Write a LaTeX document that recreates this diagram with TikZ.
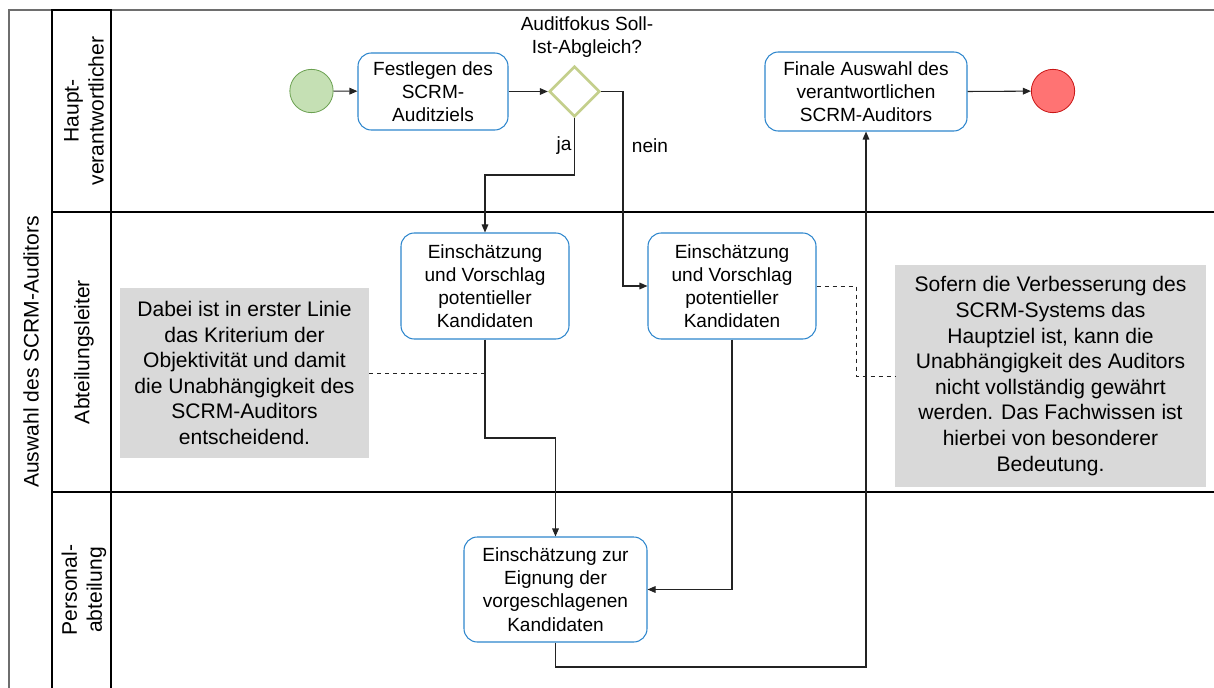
\documentclass[tikz,border=0pt]{standalone}
\usepackage{fontspec}
\setmainfont{Liberation Sans}
\usetikzlibrary{shapes.geometric,arrows.meta,calc}
\definecolor{taskblue}{RGB}{46,134,205}
\definecolor{gwolive}{RGB}{196,207,140}
\definecolor{startfill}{RGB}{197,224,180}
\definecolor{startdraw}{RGB}{106,160,80}
\definecolor{endfill}{RGB}{255,115,115}
\definecolor{enddraw}{RGB}{200,20,20}
\definecolor{annofill}{RGB}{217,217,217}
\definecolor{flowcol}{RGB}{35,35,35}
\definecolor{poolgray}{RGB}{110,110,110}
\tikzset{
  boxfont/.style={font=\fontsize{14.3pt}{17.4pt}\selectfont},
  task/.style={boxfont, draw=taskblue, line width=0.8pt, rounded corners=10pt, fill=white, align=center, inner sep=0pt},
  gateway/.style={diamond, draw=gwolive, line width=2pt, fill=white, minimum width=38pt, minimum height=38pt, inner sep=0pt, aspect=1},
  startev/.style={circle, draw=startdraw, fill=startfill, line width=0.6pt, minimum size=32.5pt, inner sep=0pt},
  endev/.style={circle, draw=enddraw, fill=endfill, line width=0.6pt, minimum size=32.5pt, inner sep=0pt},
  anno/.style={fill=annofill, align=center, inner sep=0pt, font=\fontsize{15.8pt}{19.2pt}\selectfont},
  flow/.style={draw=flowcol, line width=0.8pt, -{Triangle[length=6pt,width=5pt]}},
  assoc/.style={draw=flowcol, line width=0.7pt, dashed},
  lanelabel/.style={rotate=90, align=center, font=\fontsize{15.8pt}{18.8pt}\selectfont},
  plainlabel/.style={boxfont, align=center, inner sep=0pt},
}
\begin{document}
\begin{tikzpicture}[x=0.75pt,y=-0.75pt]
\useasboundingbox (0,0) rectangle (1214,688);
% pool and lanes
\draw[poolgray, line width=1.6pt] (9,688) -- (9,10) -- (1214,10);
\draw[black, line width=1pt] (52,688) -- (52,10) -- (111,10) -- (111,688);
\draw[black, line width=1pt] (52,212) -- (1214,212);
\draw[black, line width=1pt] (52,492) -- (1214,492);
\node[lanelabel] (pool) at (31,352) {Auswahl des SCRM-Auditors};
\node[lanelabel] (lane1) at (84,111) {Haupt-\\verantwortlicher};
\node[lanelabel] (lane2) at (84,352) {Abteilungsleiter};
\node[lanelabel] (lane3) at (84,590) {Personal-\\abteilung};
% annotations
\node[anno, minimum width=186.75pt, minimum height=127.5pt] (a1) at (244.5,373) {Dabei ist in erster Linie\\das Kriterium der\\Objektivität und damit\\die Unabhängigkeit des\\SCRM-Auditors\\entscheidend.};
\node[anno, minimum width=233.25pt, minimum height=166.5pt] (a2) at (1050.5,376) {Sofern die Verbesserung des\\SCRM-Systems das\\Hauptziel ist, kann die\\Unabhängigkeit des Auditors\\nicht vollständig gewährt\\werden. Das Fachwissen ist\\hierbei von besonderer\\Bedeutung.};
% events, tasks, gateway
\node[startev] (start) at (311.5,91) {};
\node[task, minimum width=112.5pt, minimum height=57.75pt] (t1) at (433,91.5) {Festlegen des\\SCRM-\\Auditziels};
\node[gateway] (gw) at (574.5,91.5) {};
\node[plainlabel] (gwl) at (587,37) {Auditfokus Soll-\\Ist-Abgleich?};
\node[task, minimum width=126pt, minimum height=79.5pt] (t2) at (485,286) {Einschätzung\\und Vorschlag\\potentieller\\Kandidaten};
\node[task, minimum width=126pt, minimum height=79.5pt] (t3) at (732,286) {Einschätzung\\und Vorschlag\\potentieller\\Kandidaten};
\node[task, minimum width=137.25pt, minimum height=78.75pt] (t4) at (555.5,589.5) {Einschätzung zur\\Eignung der\\vorgeschlagenen\\Kandidaten};
\node[task, minimum width=151.5pt, minimum height=59.25pt] (t5) at (866,91.5) {Finale Auswahl des\\verantwortlichen\\SCRM-Auditors};
\node[endev] (end) at (1053,91) {};
\node[plainlabel] (ja) at (564,146) {ja};
\node[plainlabel] (nein) at (650,146) {nein};
% coordinates for bends
\coordinate (j1) at (574.5,175);
\coordinate (n1) at (623,91.5);
\coordinate (k1) at (485,438);
\coordinate (k2) at (555.5,667);
\coordinate (d1) at (485,373);
\coordinate (d2) at (856,286);
% flows
\draw[flow] (start) -- (t1);
\draw[flow] (t1.east) -- (gw.west);
\draw[flow] (gw.south) -- (j1) -| (t2.north);
\draw[flow] (gw.east) -- (n1) |- (t3.west);
\draw[flow] (t2.south) -- (k1) -| (t4.north);
\draw[flow] (t3.south) |- (t4.east);
\draw[flow] (t4.south) -- (k2) -| (t5.south);
\draw[flow] (t5.east) -- (end);
% associations
\draw[assoc] (a1.east) -- (d1);
\draw[assoc] (t3.east) -- (d2) |- (a2.west);
\end{tikzpicture}
\end{document}
